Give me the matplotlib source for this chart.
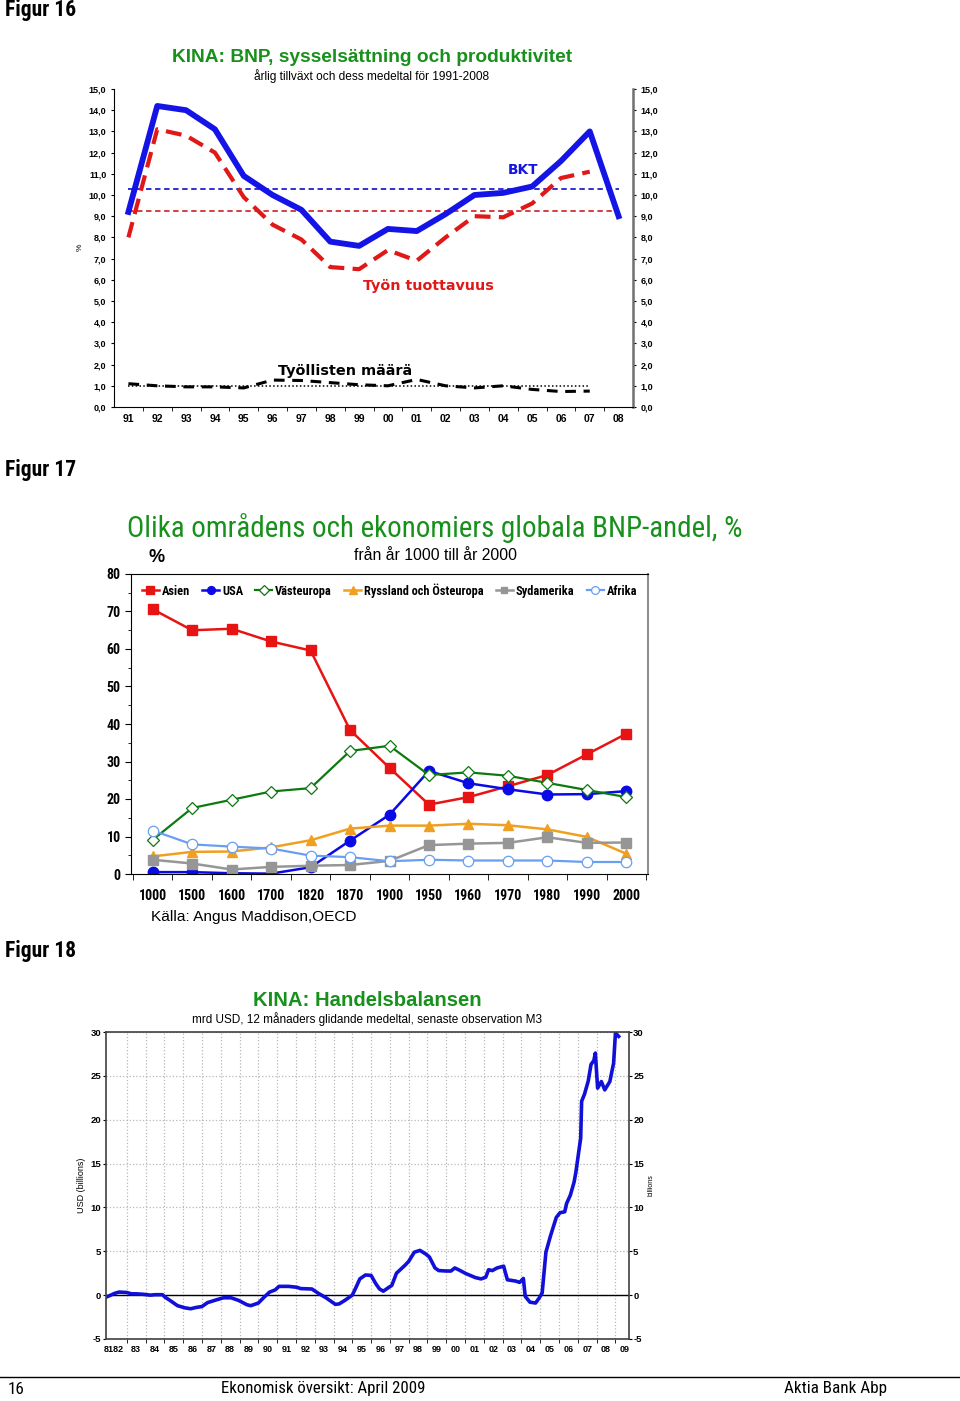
import numpy as np
import matplotlib.pyplot as plt
import matplotlib.font_manager as fm
from matplotlib.lines import Line2D

plt.rcParams['font.family'] = ['Liberation Sans', 'DejaVu Sans']
plt.rcParams['axes.unicode_minus'] = False


def _w(v):
    return v if isinstance(v, (int, float)) else fm.weight_dict.get(v, 400)


_fonts = {}
for _f in fm.fontManager.ttflist:
    _fonts.setdefault(_f.name, set()).add(_w(_f.weight))


def pick_narrow(prefs):
    for p in prefs:
        ws = _fonts.get(p)
        if ws and max(ws) >= 600 and min(ws) <= 500:
            return p
    return 'Liberation Sans'


NARROW = [pick_narrow(['Liberation Sans Narrow', 'Arial Narrow', 'Roboto Condensed',
                       'IBM Plex Sans Condensed', 'Fira Sans Condensed', 'PT Sans Narrow',
                       'Archivo Narrow', 'Encode Sans Condensed', 'Open Sans Condensed']),
          'DejaVu Sans']

# ---- Figur 16: KINA BNP, sysselsättning, produktivitet ----
years16 = ['91', '92', '93', '94', '95', '96', '97', '98', '99',
           '00', '01', '02', '03', '04', '05', '06', '07', '08']
bkt = [9.2, 14.2, 14.0, 13.1, 10.9, 10.0, 9.3, 7.8, 7.6,
       8.4, 8.3, 9.1, 10.0, 10.1, 10.4, 11.6, 13.0, 9.0]
tuottavuus = [8.0, 13.1, 12.8, 12.0, 9.9, 8.6, 7.9, 6.6, 6.5,
              7.4, 6.9, 8.0, 9.0, 8.95, 9.6, 10.8, 11.1]
tyolliset = [1.1, 1.0, 0.95, 0.95, 0.9, 1.27, 1.25, 1.15, 1.05,
             1.0, 1.3, 1.0, 0.9, 1.0, 0.83, 0.73, 0.75]
bkt_mean = 10.3
tuott_mean = 9.25
tyoll_mean = 1.0

# ---- Figur 17: globala BNP-andel ----
years17 = ['1000', '1500', '1600', '1700', '1820', '1870', '1900',
           '1950', '1960', '1970', '1980', '1990', '2000']
asien = [70.6, 65.0, 65.4, 62.0, 59.6, 38.4, 28.3, 18.5, 20.5, 23.4, 26.4, 31.9, 37.4]
usa = [0.5, 0.5, 0.2, 0.1, 1.8, 8.9, 15.8, 27.5, 24.2, 22.6, 21.2, 21.3, 22.1]
vasteuropa = [9.1, 17.6, 19.8, 22.0, 22.9, 32.8, 34.2, 26.4, 27.1, 26.2, 24.3, 22.4, 20.5]
ryssland = [4.7, 5.9, 6.0, 7.1, 9.0, 12.1, 12.9, 12.9, 13.4, 13.0, 11.9, 9.9, 5.4]
sydamerika = [3.8, 2.8, 1.2, 1.9, 2.2, 2.4, 3.5, 7.7, 8.1, 8.3, 9.8, 8.3, 8.4]
afrika = [11.6, 7.9, 7.3, 6.8, 4.9, 4.5, 3.4, 3.8, 3.6, 3.6, 3.6, 3.2, 3.2]

# ---- Figur 18: KINA handelsbalansen ----
tb_t = [1981.93, 1982.15, 1982.35, 1982.6, 1983.0, 1983.25, 1983.5, 1983.86, 1984.25,
        1984.5, 1984.9, 1985.05, 1985.3, 1985.7, 1986.1, 1986.4, 1986.7, 1987.0,
        1987.3, 1987.75, 1988.15, 1988.55, 1988.95, 1989.4, 1989.6, 1990.0, 1990.3,
        1990.6, 1990.9, 1991.1, 1991.6, 1992.05, 1992.25, 1992.85, 1993.2, 1993.6,
        1994.1, 1994.3, 1994.6, 1995.0, 1995.2, 1995.4, 1995.7, 1996.0, 1996.25,
        1996.45, 1996.65, 1996.95, 1997.1, 1997.35, 1997.8, 1998.0, 1998.3, 1998.6,
        1998.9, 1999.1, 1999.4, 1999.6, 2000.0, 2000.25, 2000.45, 2000.65, 2001.05,
        2001.55, 2001.85, 2002.1, 2002.25, 2002.45, 2002.7, 2003.05, 2003.25, 2003.7,
        2003.9, 2004.1, 2004.2, 2004.45, 2004.75, 2004.95, 2005.1, 2005.3, 2005.55,
        2005.85, 2006.05, 2006.3, 2006.4, 2006.6, 2006.8, 2006.9, 2007.05, 2007.15,
        2007.2, 2007.35, 2007.55, 2007.7, 2007.85, 2007.93, 2008.05, 2008.25, 2008.43,
        2008.7, 2008.9, 2009.0, 2009.17]
tb_v = [-0.2, 0.0, 0.2, 0.35, 0.3, 0.15, 0.15, 0.1, 0.0,
        0.05, 0.05, -0.25, -0.6, -1.2, -1.45, -1.55, -1.4, -1.3,
        -0.85, -0.55, -0.3, -0.3, -0.6, -1.1, -1.2, -0.9, -0.25,
        0.35, 0.6, 1.0, 1.0, 0.9, 0.75, 0.7, 0.2, -0.3,
        -1.05, -1.0, -0.6, 0.0, 0.9, 1.85, 2.3, 2.25, 1.3,
        0.7, 0.45, 0.9, 1.1, 2.5, 3.4, 3.85, 4.9, 5.1,
        4.7, 4.35, 3.1, 2.8, 2.75, 2.75, 3.1, 2.9, 2.45,
        2.0, 1.85, 2.05, 2.9, 2.8, 3.1, 3.3, 1.75, 1.6,
        1.45, 1.9, -0.15, -0.8, -0.9, -0.3, 0.25, 4.9, 6.8,
        8.85, 9.4, 9.5, 10.45, 11.4, 12.9, 14.1, 16.4, 17.9,
        22.1, 22.9, 24.4, 26.3, 26.75, 27.6, 23.6, 24.35, 23.4,
        24.35, 26.45, 29.9, 29.5]
tb_years = ['83', '84', '85', '86', '87', '88', '89', '90', '91', '92', '93', '94', '95',
            '96', '97', '98', '99', '00', '01', '02', '03', '04', '05', '06', '07', '08', '09']

W, H = 960, 1401
fig = plt.figure(figsize=(W / 100, H / 100), dpi=100)


def px_axes(l, t, r, b):
    return fig.add_axes([l / W, 1 - b / H, (r - l) / W, (b - t) / H])


def T(x, y, s, **kw):
    kw.setdefault('va', 'center')
    fig.text(x / W, 1 - y / H, s, **kw)


GREEN = '#18901c'
HEAVY = ['DejaVu Sans']

# ---------------- Figur 16 ----------------
T(5, 10, 'Figur 16', fontsize=15.5, fontweight='bold', family=NARROW)
T(372, 57, 'KINA: BNP, sysselsättning och produktivitet', fontsize=13.8,
  fontweight='bold', color=GREEN, ha='center')
T(372, 76, 'årlig tillväxt och dess medeltal för 1991-2008', fontsize=8.6, ha='center')
T(80, 247, '%', fontsize=6, rotation=90, ha='center')

ax1 = px_axes(114, 89, 633, 407)
x1 = np.arange(len(years16))
ax1.plot([0, 17], [bkt_mean] * 2, color='#2020d0', lw=1.3, dashes=(3, 2))
ax1.plot([0, 17], [tuott_mean] * 2, color='#d03030', lw=1.3, dashes=(3, 2))
ax1.plot([0, 16], [tyoll_mean] * 2, color='black', lw=1.1, dashes=(1, 1.5))
ax1.plot(x1, bkt, color='#1414e6', lw=4.2)
ax1.plot(x1[:len(tuottavuus)], tuottavuus, color='#e01818', lw=3, dashes=(3.8, 2))
ax1.plot(x1[:len(tyolliset)], tyolliset, color='black', lw=2.2, dashes=(3.5, 2.5))
ax1.text(13.7, 11.2, 'BKT', color='#1414e6', fontsize=9.8, fontweight='bold',
         family=HEAVY, ha='center', va='center')
ax1.text(10.4, 5.7, 'Työn tuottavuus', color='#e01818', fontsize=10.3, fontweight='bold',
         family=HEAVY, ha='center', va='center')
ax1.text(7.5, 1.7, 'Työllisten määrä', color='black', fontsize=10.4, fontweight='bold',
         family=HEAVY, ha='center', va='center')
ax1.set_xlim(-0.5, 17.5)
ax1.set_ylim(0, 15)
ax1.set_yticks(np.arange(0, 16))
ax1.set_yticklabels([f'{v:.1f}'.replace('.', ',') for v in range(16)])
ax1.set_xticks(x1)
ax1.set_xticklabels(years16)
ax1.set_xticks(x1[:-1] + 0.5, minor=True)
ax1.tick_params(axis='y', labelsize=6.5, length=2, right=True, labelright=True)
ax1.tick_params(axis='x', which='major', length=0, labelsize=7.5, pad=5)
ax1.tick_params(axis='x', which='minor', length=3)
for lab in ax1.get_xticklabels() + ax1.get_yticklabels():
    lab.set_fontweight('bold')
ax1.spines['top'].set_visible(False)
ax1.spines['right'].set_color('#707070')
ax1.spines['right'].set_linewidth(1.8)

# ---------------- Figur 17 ----------------
T(5, 470, 'Figur 17', fontsize=15.5, fontweight='bold', family=NARROW)
T(435, 528, 'Olika områdens och ekonomiers globala BNP-andel, %', fontsize=20.9,
  color=GREEN, ha='center', family=NARROW)
T(157, 558, '%', fontsize=13, fontweight='bold', ha='center')
T(435, 555, 'från år 1000 till år 2000', fontsize=11.3, ha='center')
T(151, 917, 'Källa: Angus Maddison,OECD', fontsize=11.1, ha='left')

ax2 = px_axes(131, 574, 648, 874)
x2 = np.arange(len(years17))
ax2.plot(x2, asien, color='#e81414', lw=1.8, marker='s', ms=7.5, label='Asien')
ax2.plot(x2, usa, color='#0a0ae6', lw=1.8, marker='o', ms=7.5, label='USA')
ax2.plot(x2, vasteuropa, color='#0c7a10', lw=1.6, marker='D', ms=6.5, mfc='white',
         mew=0.9, label='Västeuropa')
ax2.plot(x2, ryssland, color='#f0a020', lw=1.8, marker='^', ms=7.5, label='Ryssland och Östeuropa')
ax2.plot(x2, sydamerika, color='#969696', lw=1.8, marker='s', ms=6.5, label='Sydamerika')
ax2.plot(x2, afrika, color='#6a9ef0', lw=1.6, marker='o', ms=7.5, mfc='white', mew=0.9,
         label='Afrika')
ax2.set_xlim(-0.55, 12.55)
ax2.set_ylim(0, 80)
ax2.set_yticks(np.arange(0, 81, 10))
ax2.set_yticks(np.arange(5, 80, 10), minor=True)
ax2.set_xticks(x2)
ax2.set_xticklabels(years17)
ax2.set_xticks(np.arange(-0.5, 12.6, 1), minor=True)
ax2.tick_params(axis='y', which='major', labelsize=10, length=4)
ax2.tick_params(axis='y', which='minor', length=2)
ax2.tick_params(axis='x', which='major', length=0, labelsize=10, pad=11)
ax2.tick_params(axis='x', which='minor', length=4)
for lab in ax2.get_xticklabels() + ax2.get_yticklabels():
    lab.set_fontweight('bold')
    lab.set_family(NARROW)
ax2.spines['right'].set_color('#909090')
ax2.spines['right'].set_linewidth(1.5)
ax2.legend(loc='center', bbox_to_anchor=(0.5, 0.945), ncol=6, frameon=False,
           prop={'family': NARROW, 'size': 8.9, 'weight': 'bold'}, handlelength=1.35,
           handletextpad=0.25, columnspacing=1.0, markerscale=0.75)

# ---------------- Figur 18 ----------------
T(5, 951, 'Figur 18', fontsize=15.5, fontweight='bold', family=NARROW)
T(367, 1000, 'KINA: Handelsbalansen', fontsize=14.6, fontweight='bold', color=GREEN, ha='center')
T(367, 1019, 'mrd USD, 12 månaders glidande medeltal, senaste observation M3', fontsize=8.5,
  ha='center')
T(82, 1185, 'USD (billions)', fontsize=6.5, rotation=90, ha='center')
T(651, 1185, 'billions', fontsize=5, rotation=90, ha='center')

ax3 = px_axes(105.5, 1032, 629, 1339)
ax3.axhline(0, color='black', lw=1)
ax3.plot(tb_t, tb_v, color='#1010d8', lw=2.6)
ax3.set_xlim(1981.87, 2009.72)
ax3.set_ylim(-5, 30)
ax3.set_yticks(np.arange(-5, 31, 5))
ax3.set_xticks(np.arange(1983, 2010), minor=True)
ax3.set_xticks([1982.3] + [y + 0.5 for y in range(1983, 2010)])
ax3.set_xticklabels(['8182'] + tb_years)
ax3.grid(True, which='minor', axis='x', color='#b8b8b8', ls=':', lw=0.9)
ax3.grid(True, which='major', axis='y', color='#b8b8b8', ls=':', lw=0.9)
ax3.tick_params(axis='y', labelsize=6.8, length=2, pad=1, right=True, labelright=True)
ax3.tick_params(axis='x', which='major', length=0, labelsize=6.5, pad=4)
ax3.tick_params(axis='x', which='minor', length=3)
for lab in ax3.get_xticklabels() + ax3.get_yticklabels():
    lab.set_fontweight('bold')
for s in ax3.spines.values():
    s.set_linewidth(1.2)
    s.set_color('#404040')

# ---------------- footer ----------------
fig.add_artist(Line2D([0, 1], [1 - 1377 / H] * 2, color='black', lw=1))
T(8, 1389, '16', fontsize=12.3, family=NARROW)
T(323, 1389, 'Ekonomisk översikt: April 2009', fontsize=12.1, ha='center', family=NARROW)
T(835, 1389, 'Aktia Bank Abp', fontsize=12.3, ha='center', family=NARROW)

fig.savefig('out.png', dpi=100)
